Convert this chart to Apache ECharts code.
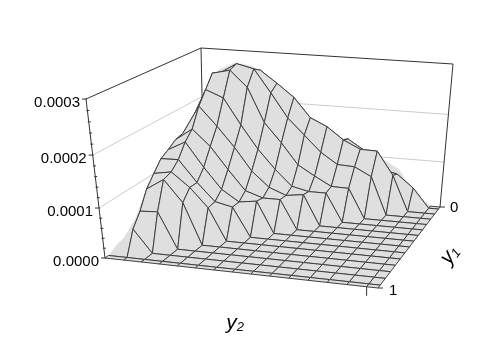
<!DOCTYPE html>
<html>
<head>
<meta charset="utf-8">
<style>html,body{margin:0;padding:0;background:#fff}#chart{width:485px;height:356px}</style>
<script src="https://cdn.jsdelivr.net/npm/echarts@6/dist/echarts.min.js"></script>
</head>
<body>
<div id="chart"></div>
<script>
// grid positions of the mesh along both floor edges
const y1Grid = [0, .03, .102, .174, .247, .319, .391, .464, .536, .608, .68, .753, .825, .898, .97, 1];
const y2Grid = [0, .073, .141, .21, .278, .346, .415, .483, .551, .619, .688, .756, .824, .893, .961, 1];

// surface height, units of 1e-6, one array per y1 grid line
const z0 = [5, 258, 275, 270, 245, 220, 186, 163, 144, 120, 100, 95, 76, 25, 0, 0];
const z1 = [40, 100, 130, 140, 160, 170, 170, 150, 130, 137, 115, 78, 70, 42, 0, 0];
const z2 = [40, 160, 230, 250, 274, 250, 224, 185, 169, 144, 127, 126, 77, 0, 0, 0];
const z3 = [40, 185, 270, 291, 283, 238, 190, 157, 124, 101, 99, 81, 0, 0, 0, 0];
const z4 = [40, 185, 277, 285, 254, 186, 147, 104, 83, 64, 63, 0, 0, 0, 0, 0];
const z5 = [40, 180, 252, 238, 187, 140, 101, 68, 60, 60, 0, 0, 0, 0, 0, 0];
const z6 = [40, 170, 227, 190, 150, 104, 73, 59, 64, 0, 0, 0, 0, 0, 0, 0];
const z7 = [40, 166, 190, 158, 114, 73, 61, 61, 0, 0, 0, 0, 0, 0, 0, 0];
const z8 = [40, 155, 173, 125, 83, 60, 65, 0, 0, 0, 0, 0, 0, 0, 0, 0];
const z9 = [40, 146, 147, 104, 68, 60, 0, 0, 0, 0, 0, 0, 0, 0, 0, 0];
const z10 = [38, 126, 132, 104, 66, 0, 0, 0, 0, 0, 0, 0, 0, 0, 0, 0];
const z11 = [18, 105, 127, 84, 0, 0, 0, 0, 0, 0, 0, 0, 0, 0, 0, 0];
const z12 = [12, 71, 73, 0, 0, 0, 0, 0, 0, 0, 0, 0, 0, 0, 0, 0];
const z13 = [8, 46, 0, 0, 0, 0, 0, 0, 0, 0, 0, 0, 0, 0, 0, 0];
const z14 = [0, 0, 0, 0, 0, 0, 0, 0, 0, 0, 0, 0, 0, 0, 0, 0];
const z15 = [0, 0, 0, 0, 0, 0, 0, 0, 0, 0, 0, 0, 0, 0, 0, 0];
const zRows = [z0, z1, z2, z3, z4, z5, z6, z7, z8, z9, z10, z11, z12, z13, z14, z15];

const zTicks = [0, 100, 200, 300];
const zLabels = ['0.0000', '0.0001', '0.0002', '0.0003'];
const zMax = 300;

// box corners on screen, order: back, right, front, left
const floorBox = [[204, 186], [440, 207], [378, 288], [105, 258]];
const topBox = [[201, 48], [453, 64], [387, 121], [86, 99]];

// unit square -> quad, plain projective map
function makeMap(q) {
  const [[x0, y0], [x1, y1], [x2, y2], [x3, y3]] = q;
  const dx1 = x1 - x2, dx2 = x3 - x2, sx = x0 - x1 + x2 - x3;
  const dy1 = y1 - y2, dy2 = y3 - y2, sy = y0 - y1 + y2 - y3;
  const det = dx1 * dy2 - dx2 * dy1;
  const g = (sx * dy2 - dx2 * sy) / det, h = (dx1 * sy - sx * dy1) / det;
  const a = x1 - x0 + g * x1, b = x3 - x0 + h * x3;
  const d = y1 - y0 + g * y1, e = y3 - y0 + h * y3;
  return (s, t) => {
    const w = g * s + h * t + 1;
    return [(a * s + b * t + x0) / w, (d * s + e * t + y0) / w];
  };
}
const floorMap = makeMap(floorBox);
const topMap = makeMap(topBox);

// s along y2, t along y1, v is the height
function project(s, t, v) {
  const p = floorMap(s, t), q = topMap(s, t);
  const w = v / zMax;
  const f = w === 0 ? 0 : w / (w + (1 - w) * 1.09);
  return [p[0] + (q[0] - p[0]) * f, p[1] + (q[1] - p[1]) * f];
}

const lastRow = y1Grid.length - 1, lastCol = y2Grid.length - 1;
const meshColor = '#2e2e2e', fillColor = '#dfdfdf', gridColor = '#cccccc', axisColor = '#333333';

function vertex(i, j) {
  return project(y2Grid[j], y1Grid[i], zRows[i][j]);
}

function segment(a, b, color, width) {
  return {
    type: 'line',
    shape: { x1: a[0], y1: a[1], x2: b[0], y2: b[1] },
    style: { stroke: color, lineWidth: width }
  };
}

// lines on the outer strips only show where the surface lies on the floor
function edgeVisible(i1, j1, i2, j2) {
  const border = i1 === 0 || i2 === 0 || j1 === 0 || j2 === 0 || i1 === lastRow || i2 === lastRow || j1 === lastCol || j2 === lastCol;
  if (border) return zRows[i1][j1] === 0 && zRows[i2][j2] === 0;
  return true;
}

const faces = [];
for (let i = 0; i < lastRow; i++) {
  for (let j = 0; j < lastCol; j++) faces.push([i, j]);
}

function renderFace(params, api) {
  const i = api.value(0), j = api.value(1);
  const corners = [[i, j], [i, j + 1], [i + 1, j + 1], [i + 1, j]];
  const pts = corners.map(c => vertex(c[0], c[1]));
  const children = [{
    type: 'polygon',
    shape: { points: pts },
    style: { fill: fillColor, stroke: fillColor, lineWidth: 0.4 }
  }];
  for (let k = 0; k < 4; k++) {
    const a = corners[k], b = corners[(k + 1) % 4];
    if (edgeVisible(a[0], a[1], b[0], b[1])) children.push(segment(pts[k], pts[(k + 1) % 4], meshColor, 0.9));
  }
  return { type: 'group', children };
}

function renderFrame() {
  const c = [];
  zTicks.slice(1, 3).forEach(v => {
    c.push(segment(project(0, 1, v), project(0, 0, v), gridColor, 1));
    c.push(segment(project(0, 0, v), project(1, 0, v), gridColor, 1));
  });
  c.push(segment(project(0, 0, 0), project(0, 0, zMax), axisColor, 1));
  c.push(segment(project(0, 1, zMax), project(0, 0, zMax), axisColor, 1));
  c.push(segment(project(0, 0, zMax), project(1, 0, zMax), axisColor, 1));
  c.push(segment(project(1, 0, 0), project(1, 0, zMax), axisColor, 1));
  return { type: 'group', children: c };
}

function label(text, x, y, align) {
  return {
    type: 'text', x, y,
    style: { text, fill: '#000', font: '15px "Liberation Sans", Arial, sans-serif', align, verticalAlign: 'middle' }
  };
}

function axisTitle(main, sub, x, y, rotation) {
  return {
    type: 'text', x, y, rotation,
    style: {
      text: '{a|' + main + '}{b|' + sub + '}', align: 'center', verticalAlign: 'middle',
      rich: {
        a: { font: 'italic 21px "Liberation Sans", Arial, sans-serif', fill: '#000' },
        b: { font: 'italic 13px "Liberation Sans", Arial, sans-serif', fill: '#000', verticalAlign: 'bottom' }
      }
    }
  };
}

function renderAxes() {
  const c = [];
  c.push(segment(project(0, 1, 0), project(0, 1, zMax), axisColor, 1));
  // z axis ticks, five steps per label
  for (let v = 0; v <= zMax; v += 20) {
    const p = project(0, 1, v);
    if (v % 100 === 0) c.push(segment([p[0] - 4, p[1]], [p[0] + 1, p[1]], axisColor, 1));
    else c.push(segment([p[0] - 1, p[1]], [p[0] + 2, p[1]], axisColor, 1));
  }
  zTicks.forEach((v, k) => {
    const p = project(0, 1, v);
    c.push(label(zLabels[k], p[0] - 6, p[1] + 4, 'right'));
  });
  const y1a = project(1, 0, 0), y1b = project(1, 1, 0), y2b = project(y2Grid[14], 1, 0);
  c.push(segment(y1a, [y1a[0] + 5, y1a[1]], axisColor, 1));
  c.push(segment(y1b, [y1b[0] + 5, y1b[1]], axisColor, 1));
  c.push(segment(y2b, [y2b[0], y2b[1] + 9], axisColor, 1));
  c.push(label('0', y1a[0] + 10, y1a[1] + 1, 'left'));
  c.push(label('1', y1b[0] + 11, y1b[1] + 3, 'left'));
  c.push(axisTitle('y', '1', 450, 255, 0.92));
  c.push(axisTitle('y', '2', 235, 323, 0));
  return { type: 'group', children: c };
}

const chart = echarts.init(document.getElementById('chart'), null, { renderer: 'canvas' });
chart.setOption({
  animation: false,
  backgroundColor: '#fff',
  series: [
    { type: 'custom', coordinateSystem: 'none', data: [[0]], renderItem: renderFrame, silent: true, z: 1 },
    { type: 'custom', coordinateSystem: 'none', data: faces, renderItem: renderFace, silent: true, z: 2, progressive: 0 },
    { type: 'custom', coordinateSystem: 'none', data: [[0]], renderItem: renderAxes, silent: true, z: 3 }
  ]
});
</script>
</body>
</html>
